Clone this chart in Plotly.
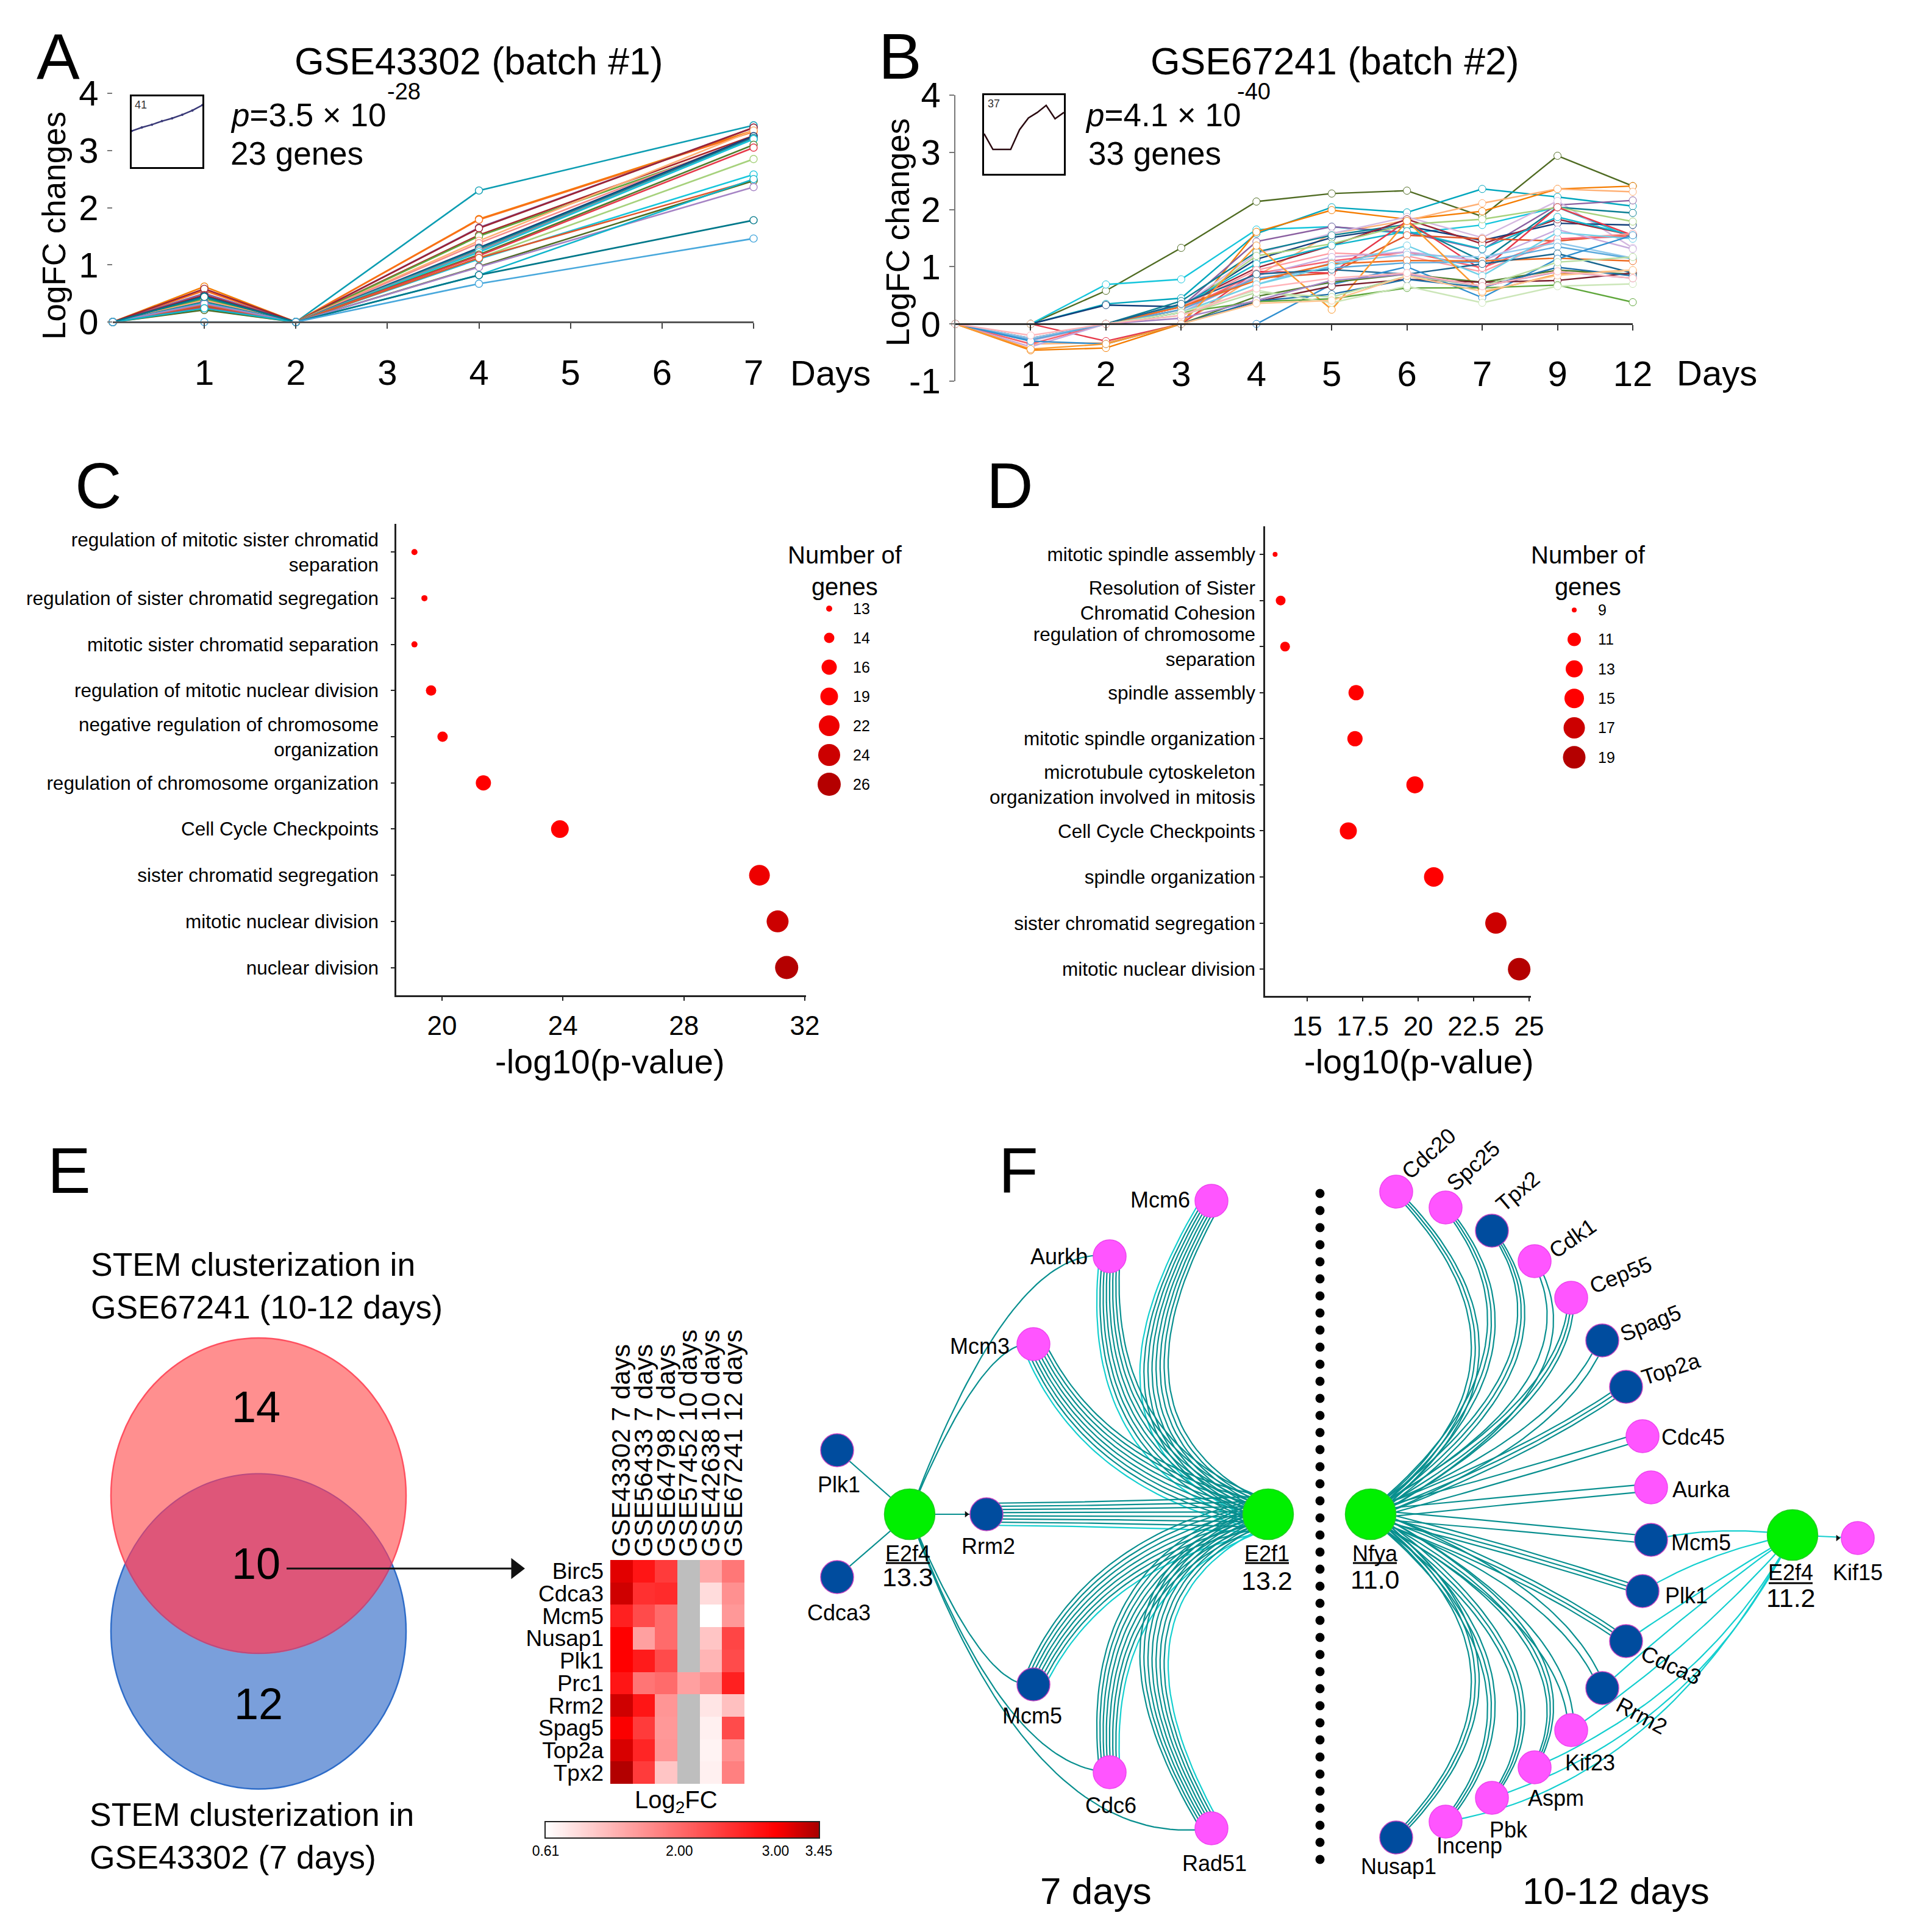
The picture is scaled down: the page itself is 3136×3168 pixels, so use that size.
import numpy as np
import plotly.graph_objects as go

W, H = 3136, 3168
FONT = "Liberation Sans"

# ---------- Panel A data ----------
a_categories = ["0", "1", "2", "3", "4", "5", "6", "7"]
a_tick_labels = ["1", "2", "3", "4", "5", "6", "7"]
a_days = ["0", "1", "2", "4", "7"]
a_day1 = [.42, .62, .55, .50, .58, .47, .40, .38, .36, .45, .35, .33, .30, .28, .26, .22, .33, .30, .21, .32, .24, .44, .0]
a_day4 = [2.30, 1.80, 1.79, 1.65, 1.64, 1.52, 1.50, 1.42, 1.38, 1.30, 1.28, 1.25, 1.22, 1.18, 1.16, 1.12, 1.10, 1.12, .97, .96, .82, .82, .67]
a_day7 = [3.44, 3.35, 3.33, 3.40, 3.40, 3.26, 3.20, 3.35, 3.24, 3.25, 3.22, 3.20, 3.20, 3.10, 3.05, 2.85, 2.58, 2.48, 2.47, 2.36, 2.50, 1.78, 1.46]
a_colors = ["#0c9db2", "#f57c00", "#f9701a", "#8a5fa0", "#9b2335", "#a8262b", "#5ea63a", "#ffb074", "#f58a8a", "#123f7a",
            "#0a7f92", "#8c8c9a", "#16c6dc", "#4e7d2b", "#e6394a", "#a6d17c", "#16c6dc", "#e0562a", "#4f6b22", "#a583c4",
            "#0fb5cc", "#00788a", "#48a8dc"]
a_inset = [.51, .56, .60, .65, .69, .74, .80, .877]

# ---------- Panel B data ----------
b_categories = ["0", "1", "2", "3", "4", "5", "6", "7", "9", "12"]
b_tick_labels = ["1", "2", "3", "4", "5", "6", "7", "9", "12"]
b_series = [
    [0, 0, .58, 1.33, 2.14, 2.28, 2.33, 1.88, 2.94, 2.41],
    [0, 0, .69, .78, 1.65, 1.70, 1.58, 1.73, 2.04, 1.51],
    [0, 0, .35, .45, 1.58, 2.04, 1.95, 2.36, 2.22, 2.06],
    [0, -.46, -.42, 0, 1.61, 1.99, 1.83, 1.97, 2.36, 2.41],
    [0, -.35, -.33, 0, .84, 1.58, 1.81, 2.11, 2.36, 2.31],
    [0, 0, 0, .30, 1.44, 1.70, 1.60, 1.30, 2.08, 2.16],
    [0, -.30, 0, .30, 1.23, 1.58, 1.87, 1.51, 2.15, 1.33],
    [0, 0, .33, .30, 1.13, 1.51, 1.71, 1.46, 1.76, 1.73],
    [0, 0, 0, .40, 1.26, 1.55, 1.74, 1.10, 2.04, 1.94],
    [0, -.25, 0, .33, .98, 1.37, 1.83, 1.40, 1.83, 1.55],
    [0, 0, 0, .25, 1.19, 1.40, 1.74, 1.83, 2.04, 1.79],
    [0, 0, 0, .32, 1.05, 1.37, 1.62, 1.31, 1.87, 1.55],
    [0, 0, 0, .30, .80, .89, 1.55, 1.49, 1.45, 1.57],
    [0, 0, -.30, 0, .92, .89, 1.80, .94, 2.04, 1.55],
    [0, -.28, 0, .30, .94, 1.24, 1.19, .91, 1.48, 1.58],
    [0, -.35, 0, .25, .88, 1.10, 1.26, .98, 1.49, 1.53],
    [0, -.40, 0, .20, .84, 1.17, 1.26, 1.10, 1.65, 1.31],
    [0, -.25, 0, .20, .69, 1.07, 1.21, 1.17, 1.42, 1.15],
    [0, -.28, 0, .25, .80, .98, 1.07, 1.08, 1.35, 1.14],
    [0, 0, 0, .30, .76, 1.05, 1.11, 1.10, 1.15, 1.10],
    [0, 0, 0, .35, .87, .95, .87, 1.05, 1.23, .89],
    [0, 0, 0, .20, .69, 1.01, 1.37, .84, 1.60, 1.49],
    [0, -.30, -.35, 0, 0, .69, 1.00, .46, 1.14, 1.55],
    [0, -.44, -.35, 0, 1.37, .25, 1.80, .55, .87, .94],
    [0, 0, 0, 0, .48, .73, .87, .73, .94, .87],
    [0, 0, 0, 0, .39, .66, .78, .73, .76, .89],
    [0, 0, 0, 0, .40, .52, .78, .64, .99, .84],
    [0, 0, 0, .20, .39, .44, .63, .63, .68, .38],
    [0, 0, 0, .20, .59, .37, .66, .37, .66, .70],
    [0, 0, 0, .15, .55, .47, .84, .66, 1.08, 1.17],
    [0, 0, 0, .10, .41, .76, .87, .66, .91, .80],
    [0, 0, 0, 0, .36, .41, .84, .57, .85, .94],
    [0, -.20, 0, .15, .62, .80, .89, .66, .92, .80],
]
b_colors = ["#4f6b22", "#16c6dc", "#00a6bd", "#f57c00", "#ffb074", "#8a5fa0", "#d4b8e0", "#123f7a", "#0a7f92", "#9b2335",
            "#a6d17c", "#0fb5cc", "#e0562a", "#e6394a", "#ff9aa2", "#f7626f", "#c7a9dd", "#8ec8ec", "#5aa9dc", "#ee6a1f",
            "#17648f", "#6fd0e8", "#2f8fd0", "#fa9a30", "#4e7d2b", "#7a1f2e", "#1e6fa8", "#5ea63a", "#cbe6b8", "#b8dca0",
            "#a583c4", "#ffc590", "#ffb3b8"]
b_inset = [.51, .31, .31, .31, .56, .71, .78, .87, .70, .78]

# ---------- Panels C / D data ----------
c_terms = ["regulation of mitotic sister chromatid<br>separation", "regulation of sister chromatid segregation",
           "mitotic sister chromatid separation", "regulation of mitotic nuclear division",
           "negative regulation of chromosome<br>organization", "regulation of chromosome organization",
           "Cell Cycle Checkpoints", "sister chromatid segregation", "mitotic nuclear division", "nuclear division"]
c_pvalues = [19.09, 19.42, 19.09, 19.64, 20.02, 21.37, 23.9, 30.5, 31.1, 31.4]
c_counts = [13, 13, 13, 14, 14, 16, 19, 22, 24, 26]
c_legend = [13, 14, 16, 19, 22, 24, 26]
d_terms = ["mitotic spindle assembly", "Resolution of Sister<br>Chromatid Cohesion",
           "regulation of chromosome<br>separation", "spindle assembly", "mitotic spindle organization",
           "microtubule cytoskeleton<br>organization involved in mitosis", "Cell Cycle Checkpoints",
           "spindle organization", "sister chromatid segregation", "mitotic nuclear division"]
d_pvalues = [13.55, 13.8, 14.0, 17.2, 17.15, 19.85, 16.85, 20.7, 23.5, 24.55]
d_counts = [9, 10, 10, 12, 12, 13, 13, 15, 17, 19]
d_legend = [9, 11, 13, 15, 17, 19]
c_size = {13: 10, 14: 17, 16: 25, 19: 29, 22: 34, 24: 36, 26: 38}
c_color = {13: "#ff0000", 14: "#ff0000", 16: "#ff0000", 19: "#ff0000", 22: "#ee0000", 24: "#cc0000", 26: "#b40000"}
d_size = {9: 8, 10: 16, 11: 22, 12: 25, 13: 28, 15: 32, 17: 35, 19: 37}
d_color = {9: "#ff0000", 10: "#ff0000", 11: "#ff0000", 12: "#ff0000", 13: "#ff0000", 15: "#ff0000", 17: "#cc0000", 19: "#b40000"}

# ---------- Panel E data ----------
e_genes = ["Birc5", "Cdca3", "Mcm5", "Nusap1", "Plk1", "Prc1", "Rrm2", "Spag5", "Top2a", "Tpx2"]
e_datasets = ["GSE43302 7 days", "GSE56433 7 days", "GSE64798 7 days", "GSE57452 10 days", "GSE42638 10 days", "GSE67241 12 days"]
N = None
e_values = [
    [3.15, 2.80, 2.45, N, 1.42, 1.88],
    [3.25, 2.55, 2.60, N, .94, 1.65],
    [2.70, 2.30, 2.00, N, .61, 1.58],
    [3.00, 1.50, 2.00, N, 1.15, 2.35],
    [3.00, 2.75, 2.30, N, 1.30, 2.30],
    [2.80, 1.90, 2.00, 1.50, 1.65, 2.70],
    [3.25, 2.80, 1.60, N, .85, 1.20],
    [3.02, 2.45, 1.58, N, .75, 2.30],
    [3.20, 2.65, 1.60, N, .72, 1.65],
    [3.40, 2.45, 1.15, N, .75, 1.80],
]
e_ticks = [.61, 2.0, 3.0, 3.45]
e_tick_text = ["0.61", "2.00", "3.00", "3.45"]

# ---------- Panel F data (node layout, page pixels) ----------
left_targets = ["Mcm6", "Aurkb", "Mcm3", "Rrm2", "Mcm5", "Cdc6", "Rad51"]
left_x = [1987, 1820, 1695, 1618, 1695, 1820, 1987]
left_y = [1969, 2060, 2204, 2483, 2762, 2906, 2998]
left_bend_x = [1760, 1790, 1792, 1850, 1792, 1790, 1760]
left_bend_y = [2354, 2390, 2426, 2483, 2540, 2576, 2612]
left_kind = ["p", "p", "p", "b", "b", "p", "p"]
left_label_x = [1903, 1737, 1607, 1621, 1693, 1822, 1992]
left_label_y = [1967, 2060, 2207, 2535, 2813, 2960, 3055]
e2f4_only = ["Plk1", "Cdca3"]
e2f4_only_x = [1373, 1373]
e2f4_only_y = [2378, 2586]
e2f4_only_label_x = [1376, 1376]
e2f4_only_label_y = [2434, 2644]
e2f4_curve_x = [1660, 1613, 1613, 1648, 1690]
e2f4_curve_y = [2034, 2192, 2774, 2900, 3040]
e2f4_curve_to = [1, 2, 4, 5, 6]

right_targets = ["Cdc20", "Spc25", "Tpx2", "Cdk1", "Cep55", "Spag5", "Top2a", "Cdc45", "Aurka", "Mcm5", "Plk1", "Cdca3", "Rrm2", "Kif23", "Aspm", "Pbk", "Incenp", "Nusap1"]
right_x = [2290, 2371, 2447, 2517, 2577, 2628, 2667, 2694, 2708, 2708, 2694, 2667, 2628, 2577, 2517, 2447, 2371, 2290]
right_y = [1954, 1980, 2018, 2068, 2128, 2198, 2274, 2355, 2439, 2525, 2609, 2691, 2768, 2837, 2898, 2948, 2987, 3013]
right_bend_x = [2569, 2568, 2604, 2630, 2575, 2560, 2500, 2450, 2450, 2450, 2450, 2500, 2560, 2575, 2630, 2604, 2568, 2569]
right_bend_y = [2238, 2220, 2230, 2270, 2300, 2360, 2390, 2430, 2462, 2500, 2530, 2575, 2600, 2660, 2690, 2740, 2745, 2730]
right_kind = ["p", "p", "b", "p", "p", "b", "b", "p", "p", "b", "b", "b", "b", "p", "p", "p", "p", "b"]
right_lines = [3, 3, 3, 2, 3, 2, 3, 2, 2, 2, 3, 3, 2, 2, 3, 3, 3, 3]
right_label_x = [2343, 2416, 2489, 2579, 2658, 2707, 2740, 2777, 2790, 2790, 2766, 2741, 2693, 2608, 2552, 2474, 2410, 2294]
right_label_y = [1891, 1911, 1953, 2030, 2090, 2169, 2244, 2356, 2442, 2529, 2616, 2730, 2813, 2890, 2948, 3000, 3026, 3060]
right_label_angle = [-42, -42, -40, -35, -22, -22, -18, 0, 0, 0, 0, 25, 28, 0, 0, 0, 0, 0]
e2f4b_to = ["Mcm5", "Plk1", "Cdca3", "Rrm2", "Kif23", "Aspm", "Pbk", "Incenp"]
e2f4b_bend_x = [2820, 2800, 2800, 2780, 2780, 2800, 2780, 2720]
e2f4b_bend_y = [2500, 2545, 2600, 2630, 2700, 2775, 2840, 2930]
hubs = {"E2f4": (1492, 2483), "E2f1": (2080, 2483), "Nfya": (2248, 2483), "E2f4b": (2940, 2517), "Kif15": (3047, 2522)}
hub_scores = [("E2f4", "13.3", 1489, 2547, 2586, 2563), ("E2f1", "13.2", 2078, 2547, 2592, 2563),
              ("Nfya", "11.0", 2255, 2547, 2590, 2563), ("E2f4", "11.2", 2937, 2578, 2620, 2596)]

PINK, BLUE, GREEN = "#ff55ff", "#004c9e", "#00f000"
TEAL, CYAN = "#088f8f", "#14cfcf"


def xdom(a, b):
    return [a / W, b / W]


def ydom(top, bottom):
    return [1 - bottom / H, 1 - top / H]


fig = go.Figure()
anns, shapes = [], []


def ann(text, x, y, size, xa="center", angle=0, color="black", align=None):
    d = dict(text=text, x=x, y=y, xref="x20", yref="y20", showarrow=False,
             font=dict(size=size, color=color, family=FONT), xanchor=xa, yanchor="middle", textangle=angle)
    if align:
        d["align"] = align
    anns.append(d)


layout = dict(width=W, height=H, margin=dict(l=0, r=0, t=0, b=0), autosize=False,
              paper_bgcolor="white", plot_bgcolor="rgba(0,0,0,0)", showlegend=False,
              font=dict(family=FONT, color="black"))

# Panel A
for d1, d4, d7, c in zip(a_day1, a_day4, a_day7, a_colors):
    fig.add_trace(go.Scatter(x=a_days, y=[0, d1, 0, d4, d7], xaxis="x", yaxis="y", mode="lines+markers", cliponaxis=False,
                             line=dict(color=c, width=2.6), marker=dict(size=12, color="white", line=dict(color=c, width=1.4))))
layout["xaxis"] = dict(domain=xdom(185, 1236), type="category", categoryorder="array", categoryarray=a_categories,
                       range=[0, 7], tickmode="array", tickvals=a_tick_labels, ticktext=a_tick_labels, anchor="free",
                       position=1 - 528 / H, showline=True, linecolor="#555", linewidth=3, ticks="outside", ticklen=9,
                       tickcolor="#444", tickwidth=2, ticklabelstandoff=22, tickfont=dict(size=58), showgrid=False, zeroline=False)
layout["yaxis"] = dict(domain=ydom(153, 528), range=[0, 4], tickvals=[0, 1, 2, 3, 4], anchor="x", showline=False,
                       ticks="outside", ticklen=8, tickcolor="#777", tickwidth=1.5, tickfont=dict(size=58),
                       ticklabelstandoff=3, showgrid=False, zeroline=False)

# Panel B
for s, c in zip(b_series, b_colors):
    fig.add_trace(go.Scatter(x=b_categories, y=s, xaxis="x2", yaxis="y2", mode="lines+markers", cliponaxis=False,
                             line=dict(color=c, width=2.4), marker=dict(size=12, color="white", line=dict(color=c, width=1))))
layout["xaxis2"] = dict(domain=xdom(1567, 2678), type="category", categoryorder="array", categoryarray=b_categories,
                        range=[0, 9], tickmode="array", tickvals=b_tick_labels, ticktext=b_tick_labels, anchor="free",
                        position=1 - 531 / H, showline=True, linecolor="#333", linewidth=2.5, ticks="outside", ticklen=9,
                        tickcolor="#333", tickwidth=2, ticklabelstandoff=22, tickfont=dict(size=58), showgrid=False, zeroline=False)
layout["yaxis2"] = dict(domain=ydom(156, 625), range=[-1, 4], tickvals=[-1, 0, 1, 2, 3, 4], ticktext=["-1", "0", "1", "2", "3", "4"], anchor="x2", showline=True,
                        linecolor="#777", linewidth=1.5, ticks="outside", ticklen=8, tickcolor="#777", tickwidth=1.5,
                        tickfont=dict(size=58), ticklabelstandoff=3, showgrid=False, zeroline=False)

# Insets
fig.add_trace(go.Scatter(x=[0, 1, 2, 3, 4, 5, 6, 7], y=a_inset, xaxis="x3", yaxis="y3", mode="lines+markers",
                         line=dict(color="#3a3a78", width=2.5), marker=dict(size=4, color="#3a3a78")))
fig.add_trace(go.Scatter(x=list(range(10)), y=b_inset, xaxis="x4", yaxis="y4", mode="lines",
                         line=dict(color="#2a0a10", width=2.5)))
for n, dom_x, dom_y, rng in (("3", (216, 332), (158, 274), [0, 7]), ("4", (1614, 1745), (156, 285), [0, 9])):
    layout["xaxis" + n] = dict(domain=xdom(*dom_x), range=rng, showticklabels=False, ticks="", mirror=True, showline=True,
                               linecolor="black", linewidth=2.5, showgrid=False, zeroline=False, anchor="y" + n)
    layout["yaxis" + n] = dict(domain=ydom(*dom_y), range=[0, 1], showticklabels=False, ticks="", mirror=True, showline=True,
                               linecolor="black", linewidth=2.5, showgrid=False, zeroline=False, anchor="x" + n)


def dot_axes(n, terms, xvals, counts, size, color, dom_x, dom_y, rng, xr, xt, xtt, standoff):
    fig.add_trace(go.Scatter(x=xvals, y=terms, xaxis="x" + n, yaxis="y" + n, mode="markers",
                             marker=dict(size=[size[c] for c in counts], color=[color[c] for c in counts], opacity=1, line=dict(width=0))))
    layout["xaxis" + n] = dict(domain=xdom(*dom_x), range=xr, tickvals=xt, ticktext=xtt, anchor="y" + n, showline=True,
                               linecolor="#222", linewidth=2.5, ticks="outside", ticklen=6, tickcolor="#222", tickwidth=2,
                               tickfont=dict(size=44), ticklabelstandoff=3, showgrid=False, zeroline=False)
    layout["yaxis" + n] = dict(domain=ydom(*dom_y), type="category", categoryorder="array", categoryarray=terms, range=rng,
                               tickmode="array", tickvals=terms, ticktext=terms, anchor="x" + n, showline=True, linecolor="#222",
                               linewidth=2.5, ticks="outside", ticklen=6, tickcolor="#222", tickwidth=2,
                               tickfont=dict(size=31.5), ticklabelstandoff=standoff, showgrid=False, zeroline=False)


def legend_axes(n, counts, size, color, dom_x, dom_y):
    labels = [str(c) for c in counts]
    fig.add_trace(go.Scatter(x=[0] * len(counts), y=labels, xaxis="x" + n, yaxis="y" + n, mode="markers",
                             marker=dict(size=[size[c] for c in counts], color=[color[c] for c in counts], opacity=1, line=dict(width=0))))
    layout["xaxis" + n] = dict(domain=xdom(*dom_x), range=[-1, 1], visible=False)
    layout["yaxis" + n] = dict(domain=ydom(*dom_y), type="category", categoryorder="array", categoryarray=labels,
                               range=[len(counts) - .5, -.5], side="right", anchor="x" + n, showline=False, ticks="",
                               tickmode="array", tickvals=labels, ticktext=labels, tickfont=dict(size=25),
                               ticklabelstandoff=8, showgrid=False, zeroline=False)


dot_axes("5", c_terms, c_pvalues, c_counts, c_size, c_color, (650, 1322), (859, 1632), [9.6, -.61], [18.49, 32.04],
         [20, 24, 28, 32], ["20", "24", "28", "32"], 14)
dot_axes("6", d_terms, d_pvalues, d_counts, d_size, d_color, (2075, 2511), (863, 1633), [9.58, -.61], [13.1, 25.08],
         [15, 17.5, 20, 22.5, 25], ["15", "17.5", "20", "22.5", "25"], 1)
legend_axes("7", c_legend, c_size, c_color, (1330, 1390), (974, 1310))
legend_axes("8", d_legend, d_size, d_color, (2552, 2612), (976, 1266))

# Panel E heatmap
E_SCALE = [[0, "#ffffff"], [(3 - .61) / 2.84, "#ff0000"], [1, "#a80000"]]
gray_z = [[1 if v is None else None for v in row] for row in e_values]
fig.add_trace(go.Heatmap(z=gray_z, x=e_datasets, y=e_genes, xaxis="x9", yaxis="y9", showscale=False,
                         colorscale=[[0, "#bebebe"], [1, "#bebebe"]], zmin=0, zmax=1))
fig.add_trace(go.Heatmap(z=e_values, x=e_datasets, y=e_genes, xaxis="x9", yaxis="y9", zmin=.61, zmax=3.45,
                         colorscale=E_SCALE, showscale=False))
layout["xaxis9"] = dict(domain=xdom(1001, 1221), side="top", type="category", tickangle=-90, tickfont=dict(size=43),
                        anchor="y9", ticks="", showgrid=False, zeroline=False, showline=False, ticklabelstandoff=4,
                        tickmode="array", tickvals=e_datasets, ticktext=e_datasets)
layout["yaxis9"] = dict(domain=ydom(2558, 2925), type="category", autorange="reversed", tickfont=dict(size=37),
                        anchor="x9", ticks="", showgrid=False, zeroline=False, showline=False, ticklabelstandoff=10,
                        tickmode="array", tickvals=e_genes, ticktext=e_genes)
# colour key as its own small heatmap axis
key_x = np.linspace(.61, 3.45, 285)
fig.add_trace(go.Heatmap(z=[key_x], x=key_x, y=[0], xaxis="x10", yaxis="y10", zmin=.61, zmax=3.45, colorscale=E_SCALE, showscale=False))
layout["xaxis10"] = dict(domain=xdom(895, 1343), range=[.61, 3.45], tickmode="array", tickvals=e_ticks, ticktext=e_tick_text,
                         tickfont=dict(size=23), ticks="", anchor="y10", showline=True, mirror=True, linecolor="#222", linewidth=2,
                         showgrid=False, zeroline=False, ticklabelstandoff=0)
layout["yaxis10"] = dict(domain=ydom(2988, 3013), range=[-.5, .5], showticklabels=False, ticks="", anchor="x10", showline=True,
                         mirror=True, linecolor="#222", linewidth=2, showgrid=False, zeroline=False)


# Panel F edges
def bezier(p0, c, p1, k=44):
    t = np.linspace(0, 1, k)[:, None]
    return (1 - t) ** 2 * np.array(p0) + 2 * t * (1 - t) * np.array(c) + t ** 2 * np.array(p1)


def bundle(p0, c, p1, n, s0, s1, s2):
    d = np.array(p1, float) - np.array(p0, float)
    perp = np.array([-d[1], d[0]]) / np.hypot(*d)
    out = []
    for o in (np.linspace(-1, 1, n) if n > 1 else [0]):
        out.append(bezier(np.array(p0) + o * s0 * perp, np.array(c) + o * s1 * perp, np.array(p1) + o * s2 * perp))
    return out


teal_paths, cyan_paths = [], []
for x, y, bx, by, name in zip(left_x, left_y, left_bend_x, left_bend_y, left_targets):
    s = 18 if name == "Rrm2" else 21
    paths = bundle((x, y), (bx, by), hubs["E2f1"], 8, s, s * 1.1, 30)
    teal_paths += paths[:-1]
    cyan_paths += paths[-1:]
for x, y, bx, by, n in zip(right_x, right_y, right_bend_x, right_bend_y, right_lines):
    teal_paths += bundle((x, y), (bx, by), hubs["Nfya"], n, 6, 6.5, 7)
for (x, y) in zip(e2f4_only_x, e2f4_only_y):
    teal_paths.append(np.array([[x, y], hubs["E2f4"]], float))
teal_paths.append(np.array([hubs["E2f4"], (left_x[3], left_y[3])], float))
for bx, by, idx in zip(e2f4_curve_x, e2f4_curve_y, e2f4_curve_to):
    teal_paths.append(bezier(hubs["E2f4"], (bx, by), (left_x[idx], left_y[idx])))
for name, bx, by in zip(e2f4b_to, e2f4b_bend_x, e2f4b_bend_y):
    i = right_targets.index(name)
    cyan_paths.append(bezier(hubs["E2f4b"], (bx, by), (right_x[i], right_y[i])))
cyan_paths.append(np.array([hubs["E2f4b"], hubs["Kif15"]], float))
black_path = [np.array([[470, 2572], [840, 2572]], float)]


def polyline(paths):
    xs, ys = [], []
    for p in paths:
        xs += list(p[:, 0]) + [None]
        ys += list(p[:, 1]) + [None]
    return xs, ys


for paths, col, w in ((cyan_paths, CYAN, 2.2), (teal_paths, TEAL, 2.2), (black_path, "#111111", 3)):
    xs, ys = polyline(paths)
    fig.add_trace(go.Scatter(x=xs, y=ys, xaxis="x20", yaxis="y20", mode="lines", line=dict(color=col, width=w)))


def nodes(xs, ys, size, color, edge):
    fig.add_trace(go.Scatter(x=xs, y=ys, xaxis="x20", yaxis="y20", mode="markers",
                             marker=dict(size=size, color=color, line=dict(color=edge, width=1.5))))


left_pink = [i for i, k in enumerate(left_kind) if k == "p"]
left_blue = [i for i, k in enumerate(left_kind) if k == "b"]
right_pink = [i for i, k in enumerate(right_kind) if k == "p"]
right_blue = [i for i, k in enumerate(right_kind) if k == "b"]
nodes([left_x[i] for i in left_pink] + [right_x[i] for i in right_pink] + [hubs["Kif15"][0]],
      [left_y[i] for i in left_pink] + [right_y[i] for i in right_pink] + [hubs["Kif15"][1]], 54, PINK, "#ee44ee")
nodes([left_x[i] for i in left_blue] + [right_x[i] for i in right_blue] + e2f4_only_x,
      [left_y[i] for i in left_blue] + [right_y[i] for i in right_blue] + e2f4_only_y, 54, BLUE, "#c040c0")
hub_list = ["E2f4", "E2f1", "Nfya", "E2f4b"]
nodes([hubs[h][0] for h in hub_list], [hubs[h][1] for h in hub_list], 83, GREEN, "#22cc22")

# arrow heads (page pixels)
fig.add_trace(go.Scatter(x=[846, left_x[3] - 33, hubs["Kif15"][0] - 33], y=[2572, left_y[3], hubs["Kif15"][1]],
                         xaxis="x20", yaxis="y20", mode="markers",
                         marker=dict(symbol="triangle-right", size=[30, 9, 9], color=["#111111", "#111111", "#111111"], opacity=1, line=dict(width=0))))

# dotted separator (decoration)
sep_y = list(range(1957, 3060, 28))
fig.add_trace(go.Scatter(x=[2165] * len(sep_y), y=sep_y, xaxis="x20", yaxis="y20", mode="markers",
                         marker=dict(size=15, color="black")))

layout["xaxis20"] = dict(domain=[0, 1], range=[0, W], visible=False, anchor="y20")
layout["yaxis20"] = dict(domain=[0, 1], range=[H, 0], visible=False, anchor="x20")

# Venn
cx, rx, ry, red_cy, blue_cy = 424, 242, 258.5, 2452.5, 2675
shapes.append(dict(type="circle", xref="x20", yref="y20", x0=cx - rx, x1=cx + rx, y0=blue_cy - ry, y1=blue_cy + ry,
                   fillcolor="#7a9fdb", line=dict(color="#2e6cc8", width=2.5), layer="below"))
shapes.append(dict(type="circle", xref="x20", yref="y20", x0=cx - rx, x1=cx + rx, y0=red_cy - ry, y1=red_cy + ry,
                   fillcolor="#ff8f8f", line=dict(color="#ff5060", width=2.5), layer="below"))
half = (blue_cy - red_cy) / 2
dx = rx * np.sqrt(1 - (half / ry) ** 2)
lx = np.linspace(cx - dx, cx + dx, 60)
top = blue_cy - ry * np.sqrt(np.clip(1 - ((lx - cx) / rx) ** 2, 0, 1))
bot = red_cy + ry * np.sqrt(np.clip(1 - ((lx - cx) / rx) ** 2, 0, 1))
path = "M " + " L ".join(f"{a:.1f},{b:.1f}" for a, b in zip(lx, top)) + " L " + " L ".join(f"{a:.1f},{b:.1f}" for a, b in zip(lx[::-1], bot[::-1])) + " Z"
shapes.append(dict(type="path", xref="x20", yref="y20", path=path, fillcolor="#de5679", line=dict(color="#b84a80", width=2), layer="below"))

# Text annotations
for t, x, y in (("A", 95, 92), ("B", 1476, 92), ("C", 161, 796), ("D", 1656, 796), ("E", 113, 1919), ("F", 1670, 1919)):
    ann(t, x, y, 106)
ann("GSE43302 (batch #1)", 785, 100, 62.5)
ann("GSE67241 (batch #2)", 2189, 100, 62.5)
ann("LogFC changes", 88, 370, 53, angle=-90)
ann("LogFC changes", 1472, 381, 53, angle=-90)
ann("<i>p</i>=3.5 × 10", 376, 188, 53, xa="left")
ann("-28", 662, 150, 38)
ann("23 genes", 376, 251, 53, xa="left")
ann("<i>p</i>=4.1 × 10", 1778, 188, 53, xa="left")
ann("-40", 2056, 150, 38)
ann("33 genes", 1783, 251, 53, xa="left")
ann("41", 231, 172, 18, color="#333")
ann("37", 1630, 170, 18, color="#333")
ann("Days", 1362, 611, 58)
ann("Days", 2816, 611, 58)
ann("-log10(p-value)", 1000, 1740, 56)
ann("-log10(p-value)", 2327, 1740, 56)
ann("Number of<br>genes", 1386, 936, 40)
ann("Number of<br>genes", 2605, 936, 40)
ann("STEM clusterization in<br>GSE67241 (10-12 days)", 147, 2108, 53.5, xa="left", align="left")
ann("STEM clusterization in<br>GSE43302 (7 days)", 145, 3010, 53.5, xa="left", align="left")
ann("14", 420, 2307, 72)
ann("10", 420, 2564, 72)
ann("12", 424, 2794, 72)
ann("Log<sub>2</sub>FC", 1109, 2954, 40)
ann("7 days", 1797, 3100, 62)
ann("10-12 days", 2650, 3100, 62)
for name, x, y in zip(left_targets, left_label_x, left_label_y):
    ann(name, x, y, 36)
for name, x, y in zip(e2f4_only, e2f4_only_label_x, e2f4_only_label_y):
    ann(name, x, y, 36)
for name, x, y, a in zip(right_targets, right_label_x, right_label_y, right_label_angle):
    ann(name, x, y, 36, angle=a)
ann("Kif15", 3047, 2578, 36)
for name, score, x, y1, y2, yl in hub_scores:
    ann(name, x, y1, 36)
    ann(score, x, y2, 43)
    shapes.append(dict(type="line", xref="x20", yref="y20", x0=x - 36, x1=x + 36, y0=yl, y1=yl, line=dict(color="black", width=3)))

layout["annotations"] = anns
layout["shapes"] = shapes
for key, val in layout.items():
    if key.startswith(("xaxis", "yaxis")):
        val["automargin"] = False
fig.update_layout(**layout)
fig.write_html("out.html", config=dict(displayModeBar=False), post_script="document.body.style.margin='0';")
